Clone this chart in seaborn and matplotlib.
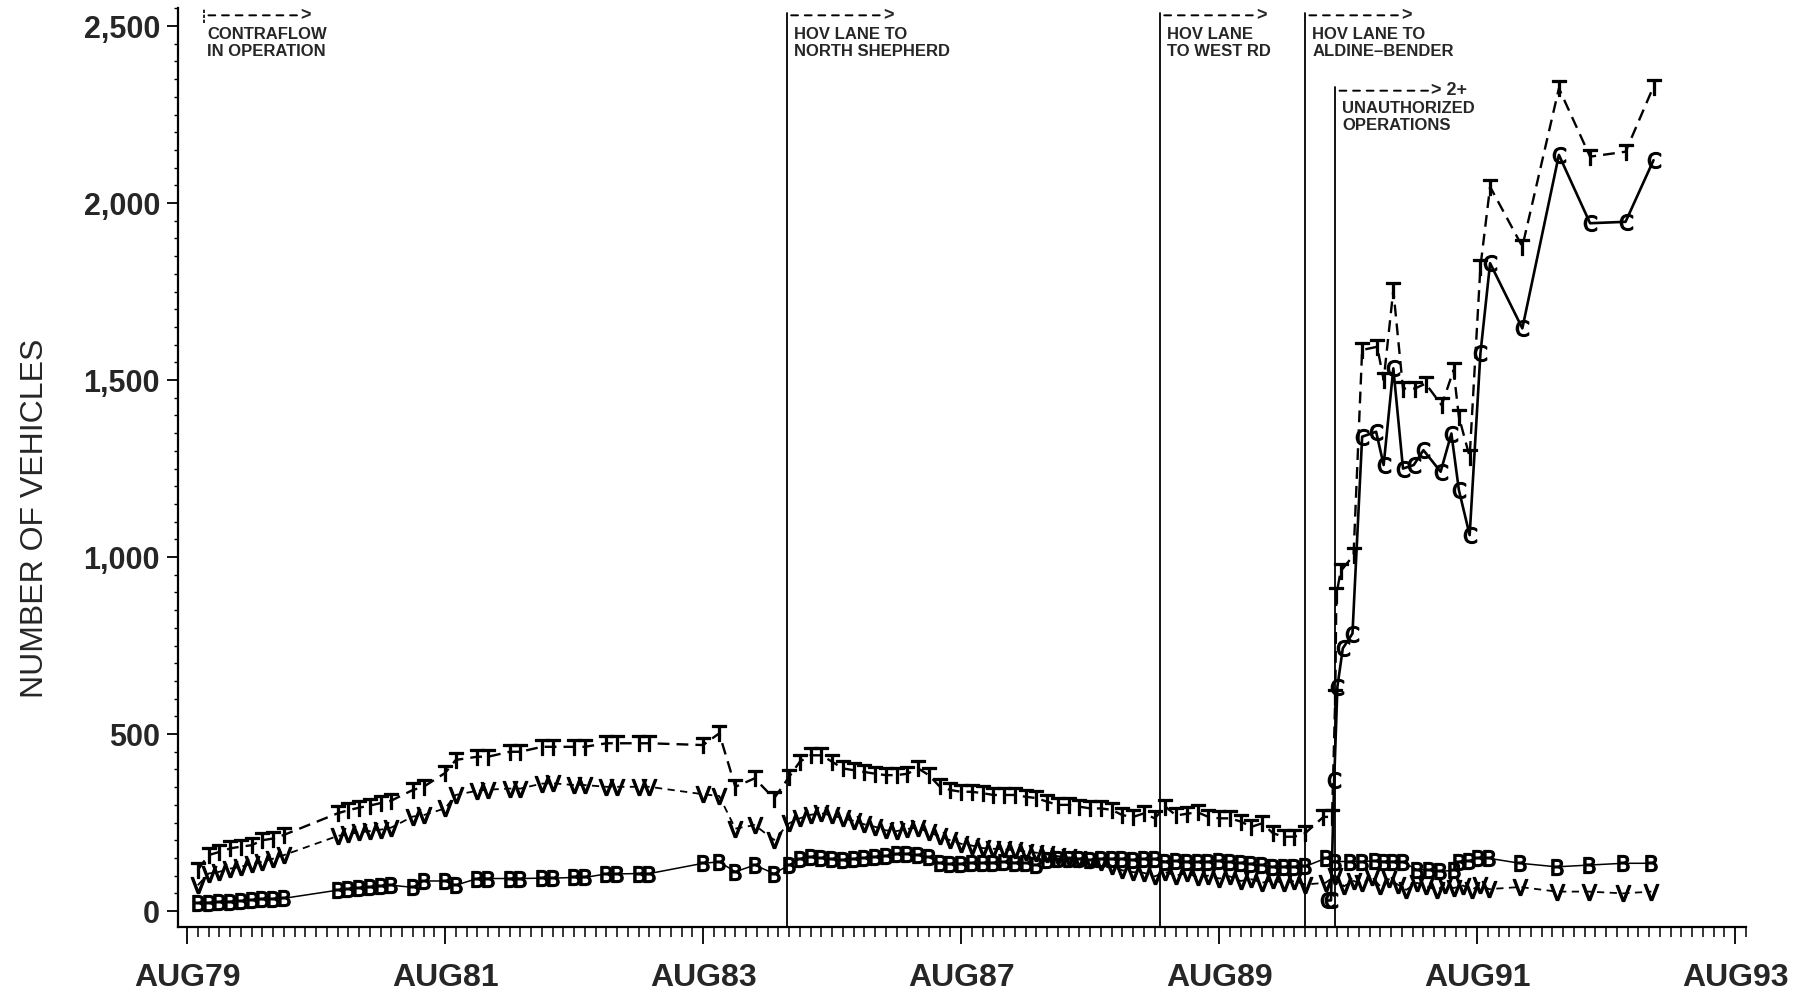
import matplotlib
matplotlib.use("Agg")
import matplotlib.pyplot as plt
import seaborn as sns
from matplotlib.ticker import MultipleLocator

# x = months since AUG79
early_month = [1, 2, 3, 4, 5, 6, 7, 8, 9, 14, 15, 16, 17, 18, 19, 21, 22, 24, 25,
               27, 28, 30, 31, 33, 34, 36, 37, 39, 40, 42, 43, 48, 49.5, 51, 52.8, 54.6]
mid_month = list(range(56, 105))

# T series
t_late_month = [105.7, 106.5, 106.8, 106.9, 107.3, 108.5, 109.3, 110.7, 111.3, 112.2, 113.1, 114.2,
                115.2, 116.7, 117.8, 118.3, 119.3, 120.3, 121.2, 124.2, 127.6, 130.5, 133.8, 136.4]
t_early = [116, 158, 167, 177, 182, 186, 200, 205, 215, 276, 285, 292, 298, 305, 312, 342, 351,
           390, 427, 436, 436, 450, 450, 464, 464, 464, 464, 474, 474, 474, 474, 469, 502, 351, 375, 318]
t_mid = [379, 422, 440, 440, 422, 403, 398, 393, 388, 384, 384, 388, 403, 384, 352, 342, 337, 337,
         333, 328, 328, 328, 323, 319, 309, 300, 300, 295, 290, 290, 286, 271, 266, 276, 262,
         295, 270, 275, 279, 266, 262, 262, 253, 238, 248, 220, 210, 210, 220]
t_late = [266, 266, 605, 893, 960, 1005, 1585, 1594, 1500, 1754, 1476, 1476, 1490, 1429, 1528,
          1396, 1283, 1820, 2046, 1877, 2324, 2131, 2145, 2329]

# V series
v_late_month = [105.9, 106.8, 107.6, 108.5, 109.3, 110.2, 111.0, 111.8, 112.6, 113.4, 114.4, 115.2,
                116.3, 117.0, 117.8, 118.7, 119.5, 120.3, 121.1, 124.0, 127.4, 130.4, 133.6, 136.2]
v_early = [73, 106, 111, 120, 125, 134, 139, 148, 158, 212, 218, 222, 226, 230, 236, 267, 271,
           290, 328, 340, 343, 346, 346, 360, 361, 356, 356, 351, 351, 351, 351, 330, 325, 233, 243, 201]
v_mid = [248, 262, 272, 276, 270, 262, 255, 245, 238, 228, 226, 232, 236, 222, 212, 200, 190, 185,
         178, 176, 174, 172, 168, 165, 160, 155, 152, 148, 145, 140, 128, 115, 110, 108, 98,
         110, 100, 108, 95, 100, 92, 98, 85, 90, 80, 88, 78, 85, 75]
v_late = [80, 100, 70, 85, 78, 95, 70, 90, 75, 60, 80, 70, 60, 75, 65, 72, 60, 75, 62, 68, 55, 55, 50, 55]

# B series
b_late_month = [105.9, 106.8, 108.2, 109.3, 110.5, 111.3, 112.2, 113.1, 114.4, 115.5, 116.5,
                117.8, 118.3, 119.2, 120.1, 121.1, 124.0, 127.4, 130.4, 133.6, 136.2]
b_early = [22, 24, 26, 27, 29, 31, 33, 35, 36, 59, 62, 65, 67, 70, 73, 67, 85, 85, 73,
           92, 92, 92, 92, 93, 93, 95, 95, 105, 105, 106, 106, 135, 139, 111, 130, 106]
b_mid = [130, 148, 152, 150, 146, 145, 148, 150, 152, 155, 160, 162, 158, 152, 135, 132, 134, 136,
         135, 137, 138, 137, 136, 130, 145, 147, 146, 148, 145, 147, 146, 148, 145, 147, 146,
         140, 142, 140, 138, 140, 142, 138, 136, 132, 130, 125, 125, 124, 126]
b_late = [149, 140, 140, 140, 142, 140, 140, 138, 117, 117, 112, 115, 140, 142, 150, 149,
          135, 125, 130, 135, 135]

# C series
c_month = [106.0, 106.4, 106.7, 107.0, 107.5, 108.4, 109.3, 110.6, 111.3, 112.2, 113.1, 114.1,
           115.0, 116.6, 117.6, 118.3, 119.3, 120.3, 121.2, 124.2, 127.6, 130.5, 133.8, 136.4]
c_count = [30, 30, 370, 634, 742, 784, 1340, 1354, 1260, 1533, 1250, 1260, 1302, 1241, 1349,
           1189, 1062, 1575, 1830, 1646, 2136, 1943, 1947, 2121]

tick_month = [0, 24, 48, 72, 96, 120, 144]
tick_label = ["AUG79", "AUG81", "AUG83", "AUG87", "AUG89", "AUG91", "AUG93"]
y_ticks = [0, 500, 1000, 1500, 2000, 2500]
y_labels = ["0", "500", "1,000", "1,500", "2,000", "2,500"]

event_month = [1.6, 55.8, 90.5, 104.0, 106.8]
event_text = ["CONTRAFLOW\nIN OPERATION", "HOV LANE TO\nNORTH SHEPHERD", "HOV LANE\nTO WEST RD",
              "HOV LANE TO\nALDINE\u2013BENDER", "UNAUTHORIZED\nOPERATIONS"]

sns.set_style("ticks")
plt.rcParams['font.family'] = ['Liberation Sans', 'DejaVu Sans']

fig = plt.figure(figsize=(18.05, 9.97), dpi=100)
ax = fig.add_axes([0.0986, 0.0702, 0.8687, 0.9218])

series = [
    ("B", early_month + mid_month + b_late_month, b_early + b_mid + b_late, 1.1, "-"),
    ("V", early_month + mid_month + v_late_month, v_early + v_mid + v_late, 1.3, (0, (4, 3))),
    ("T", early_month + mid_month + t_late_month, t_early + t_mid + t_late, 1.7, (0, (5, 3))),
    ("C", c_month, c_count, 1.9, "-"),
]
for letter, month, count, lw, ls in series:
    sns.lineplot(x=month, y=count, ax=ax, color="black", linewidth=lw, linestyle=ls,
                 marker=r"$\mathsf{%s}$" % letter, markersize=11.5,
                 markeredgecolor="black", markerfacecolor="black", markeredgewidth=0.9,
                 estimator=None, sort=False)

# event lines and notes
ax.axvline(event_month[0], ymin=0.984, ymax=1.0, color="black", lw=1.2, ls=(0, (2, 1)))
for m in event_month[1:4]:
    ax.axvline(m, ymin=0, ymax=0.995, color="black", lw=1.3)
ax.axvline(event_month[4], ymin=0, ymax=0.914, color="black", lw=1.3)

for i, (m, txt) in enumerate(zip(event_month, event_text)):
    top = 0.899 if i == 4 else 0.979
    arrow_y = 0.910 if i == 4 else 0.992
    head = "> 2+" if i == 4 else ">"
    ax.annotate(head, xy=(m, arrow_y), xycoords=("data", "axes fraction"),
                xytext=(96, 0), textcoords="offset pixels", ha="left", va="center",
                fontsize=13, fontweight="bold",
                arrowprops=dict(arrowstyle="-", linestyle=(0, (3.5, 3.5)), lw=1.4, color="black",
                                shrinkA=0, shrinkB=3))
    ax.annotate(txt, xy=(m, top), xycoords=("data", "axes fraction"),
                xytext=(3 if i == 0 else 7, 0), textcoords="offset pixels",
                ha="left", va="top", fontsize=12, fontweight="bold", linespacing=1.15)

ax.set_xlim(-0.84, 145.0)
ax.set_ylim(-45, 2551)
ax.set_xticks(tick_month)
ax.set_xticklabels(tick_label, fontsize=23, fontweight="bold")
ax.xaxis.set_minor_locator(MultipleLocator(1))
ax.set_yticks(y_ticks)
ax.set_yticklabels(y_labels, fontsize=22, fontweight="bold")
ax.yaxis.set_minor_locator(MultipleLocator(50))
ax.tick_params(axis="x", which="major", length=12, width=1.3, pad=14, color="black")
ax.tick_params(axis="x", which="minor", length=7, width=1.1, color="black")
ax.tick_params(axis="y", which="major", length=8, width=1.3, pad=5, color="black")
ax.tick_params(axis="y", which="minor", length=3.2, width=1.0, color="black")

ax.set_xlabel("")
ax.set_ylabel("NUMBER OF VEHICLES", fontsize=23, va="center")
ax.yaxis.set_label_coords(-0.0912, 0.445)

sns.despine(ax=ax)
for side in ["left", "bottom"]:
    ax.spines[side].set_linewidth(1.6)
    ax.spines[side].set_color("black")

fig.savefig("out.png", dpi=100)
